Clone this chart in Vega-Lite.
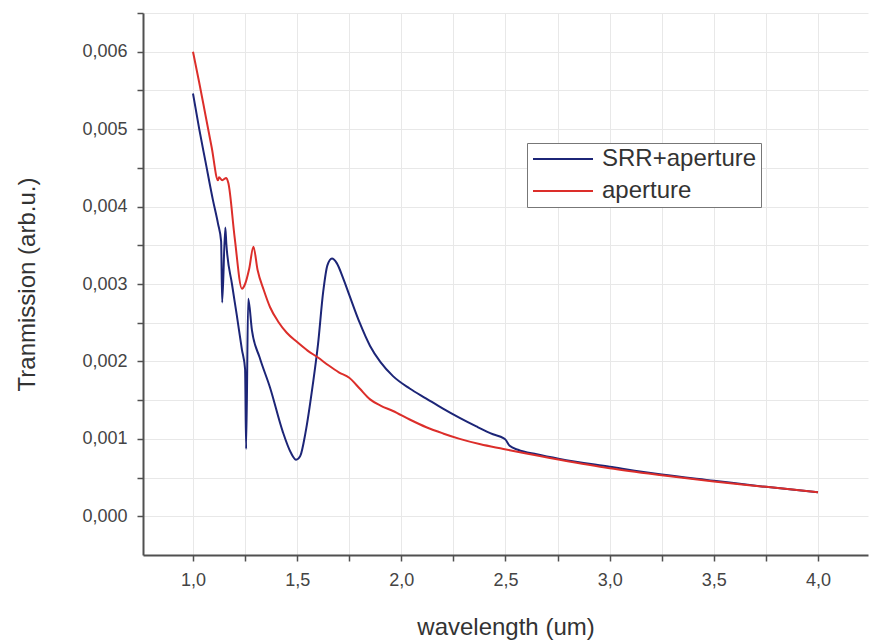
{
  "$schema": "https://vega.github.io/schema/vega-lite/v6.json",
  "autosize": "none",
  "width": 725,
  "height": 542,
  "padding": {"left": 143, "top": 13, "right": 1, "bottom": 86},
  "background": "white",
  "config": {
    "font": "Liberation Sans",
    "view": {"stroke": null},
    "axis": {
      "domainColor": "#505050",
      "domainWidth": 2,
      "tickColor": "#505050",
      "tickWidth": 1.5,
      "tickSize": 6,
      "gridColor": "#e8e8e8",
      "gridWidth": 1,
      "labelFont": "Liberation Sans",
      "labelFontSize": 18,
      "labelColor": "#444444",
      "titleFont": "Liberation Sans",
      "titleFontSize": 24,
      "titleFontWeight": "normal",
      "titleColor": "#333333",
      "labelPadding": 10
    }
  },
  "data": {
    "values": [
      {"w": 1.00, "t": 0.00546, "s": "SRR+aperture"},
      {"w": 1.03, "t": 0.00500, "s": "SRR+aperture"},
      {"w": 1.06, "t": 0.00458, "s": "SRR+aperture"},
      {"w": 1.096, "t": 0.00408, "s": "SRR+aperture"},
      {"w": 1.12, "t": 0.00378, "s": "SRR+aperture"},
      {"w": 1.135, "t": 0.00355, "s": "SRR+aperture"},
      {"w": 1.14, "t": 0.00276, "s": "SRR+aperture"},
      {"w": 1.155, "t": 0.00373, "s": "SRR+aperture"},
      {"w": 1.16, "t": 0.00352, "s": "SRR+aperture"},
      {"w": 1.187, "t": 0.00300, "s": "SRR+aperture"},
      {"w": 1.21, "t": 0.00260, "s": "SRR+aperture"},
      {"w": 1.235, "t": 0.00215, "s": "SRR+aperture"},
      {"w": 1.25, "t": 0.00190, "s": "SRR+aperture"},
      {"w": 1.255, "t": 0.00087, "s": "SRR+aperture"},
      {"w": 1.265, "t": 0.00281, "s": "SRR+aperture"},
      {"w": 1.283, "t": 0.00240, "s": "SRR+aperture"},
      {"w": 1.32, "t": 0.00205, "s": "SRR+aperture"},
      {"w": 1.37, "t": 0.00166, "s": "SRR+aperture"},
      {"w": 1.43, "t": 0.00110, "s": "SRR+aperture"},
      {"w": 1.47, "t": 0.00082, "s": "SRR+aperture"},
      {"w": 1.495, "t": 0.00073, "s": "SRR+aperture"},
      {"w": 1.515, "t": 0.00078, "s": "SRR+aperture"},
      {"w": 1.54, "t": 0.00108, "s": "SRR+aperture"},
      {"w": 1.575, "t": 0.00170, "s": "SRR+aperture"},
      {"w": 1.60, "t": 0.00222, "s": "SRR+aperture"},
      {"w": 1.625, "t": 0.00290, "s": "SRR+aperture"},
      {"w": 1.645, "t": 0.00324, "s": "SRR+aperture"},
      {"w": 1.667, "t": 0.00333, "s": "SRR+aperture"},
      {"w": 1.69, "t": 0.00327, "s": "SRR+aperture"},
      {"w": 1.72, "t": 0.00308, "s": "SRR+aperture"},
      {"w": 1.75, "t": 0.00286, "s": "SRR+aperture"},
      {"w": 1.80, "t": 0.00250, "s": "SRR+aperture"},
      {"w": 1.85, "t": 0.00220, "s": "SRR+aperture"},
      {"w": 1.90, "t": 0.00199, "s": "SRR+aperture"},
      {"w": 1.96, "t": 0.00181, "s": "SRR+aperture"},
      {"w": 2.04, "t": 0.00165, "s": "SRR+aperture"},
      {"w": 2.12, "t": 0.00152, "s": "SRR+aperture"},
      {"w": 2.20, "t": 0.00139, "s": "SRR+aperture"},
      {"w": 2.28, "t": 0.00127, "s": "SRR+aperture"},
      {"w": 2.36, "t": 0.00116, "s": "SRR+aperture"},
      {"w": 2.44, "t": 0.00106, "s": "SRR+aperture"},
      {"w": 2.49, "t": 0.00101, "s": "SRR+aperture"},
      {"w": 2.50, "t": 0.00099, "s": "SRR+aperture"},
      {"w": 2.52, "t": 0.00091, "s": "SRR+aperture"},
      {"w": 2.56, "t": 0.00086, "s": "SRR+aperture"},
      {"w": 2.65, "t": 0.00080, "s": "SRR+aperture"},
      {"w": 2.76, "t": 0.00074, "s": "SRR+aperture"},
      {"w": 3.00, "t": 0.00064, "s": "SRR+aperture"},
      {"w": 3.25, "t": 0.00054, "s": "SRR+aperture"},
      {"w": 3.50, "t": 0.00046, "s": "SRR+aperture"},
      {"w": 3.75, "t": 0.00038, "s": "SRR+aperture"},
      {"w": 4.00, "t": 0.00031, "s": "SRR+aperture"},
      {"w": 1.00, "t": 0.00600, "s": "aperture"},
      {"w": 1.03, "t": 0.00560, "s": "aperture"},
      {"w": 1.06, "t": 0.00518, "s": "aperture"},
      {"w": 1.09, "t": 0.00476, "s": "aperture"},
      {"w": 1.12, "t": 0.00434, "s": "aperture"},
      {"w": 1.125, "t": 0.00438, "s": "aperture"},
      {"w": 1.14, "t": 0.00434, "s": "aperture"},
      {"w": 1.16, "t": 0.00437, "s": "aperture"},
      {"w": 1.17, "t": 0.00430, "s": "aperture"},
      {"w": 1.20, "t": 0.00360, "s": "aperture"},
      {"w": 1.235, "t": 0.00294, "s": "aperture"},
      {"w": 1.25, "t": 0.00300, "s": "aperture"},
      {"w": 1.27, "t": 0.00320, "s": "aperture"},
      {"w": 1.29, "t": 0.00348, "s": "aperture"},
      {"w": 1.31, "t": 0.00318, "s": "aperture"},
      {"w": 1.34, "t": 0.00292, "s": "aperture"},
      {"w": 1.37, "t": 0.00270, "s": "aperture"},
      {"w": 1.41, "t": 0.00251, "s": "aperture"},
      {"w": 1.45, "t": 0.00237, "s": "aperture"},
      {"w": 1.50, "t": 0.00225, "s": "aperture"},
      {"w": 1.55, "t": 0.00214, "s": "aperture"},
      {"w": 1.60, "t": 0.00205, "s": "aperture"},
      {"w": 1.65, "t": 0.00195, "s": "aperture"},
      {"w": 1.70, "t": 0.00186, "s": "aperture"},
      {"w": 1.75, "t": 0.00179, "s": "aperture"},
      {"w": 1.80, "t": 0.00165, "s": "aperture"},
      {"w": 1.85, "t": 0.00151, "s": "aperture"},
      {"w": 1.90, "t": 0.00143, "s": "aperture"},
      {"w": 1.96, "t": 0.00136, "s": "aperture"},
      {"w": 2.04, "t": 0.00125, "s": "aperture"},
      {"w": 2.12, "t": 0.00115, "s": "aperture"},
      {"w": 2.20, "t": 0.00107, "s": "aperture"},
      {"w": 2.28, "t": 0.00100, "s": "aperture"},
      {"w": 2.38, "t": 0.00093, "s": "aperture"},
      {"w": 2.49, "t": 0.00087, "s": "aperture"},
      {"w": 2.60, "t": 0.00081, "s": "aperture"},
      {"w": 2.76, "t": 0.00073, "s": "aperture"},
      {"w": 3.00, "t": 0.00062, "s": "aperture"},
      {"w": 3.25, "t": 0.00053, "s": "aperture"},
      {"w": 3.50, "t": 0.00045, "s": "aperture"},
      {"w": 3.75, "t": 0.00038, "s": "aperture"},
      {"w": 4.00, "t": 0.00031, "s": "aperture"}
    ]
  },
  "mark": {"type": "line", "strokeWidth": 2, "interpolate": "monotone"},
  "encoding": {
    "x": {
      "field": "w",
      "type": "quantitative",
      "scale": {"domain": [0.76, 4.24], "nice": false, "zero": false},
      "axis": {
        "title": "wavelength (um)",
        "values": [1, 1.25, 1.5, 1.75, 2, 2.25, 2.5, 2.75, 3, 3.25, 3.5, 3.75, 4],
        "labelExpr": "abs(datum.value * 2 - round(datum.value * 2)) < 0.001 ? replace(format(datum.value, '.1f'), '.', ',') : ''",
        "titlePadding": 26
      }
    },
    "y": {
      "field": "t",
      "type": "quantitative",
      "scale": {"domain": [-0.0005, 0.0065], "nice": false, "zero": false},
      "axis": {
        "title": "Tranmission (arb.u.)",
        "values": [0, 0.0005, 0.001, 0.0015, 0.002, 0.0025, 0.003, 0.0035, 0.004, 0.0045, 0.005, 0.0055, 0.006, 0.0065],
        "labelExpr": "abs(datum.value * 1000 - round(datum.value * 1000)) < 0.001 ? replace(format(datum.value, '.3f'), '.', ',') : ''",
        "titlePadding": 42
      }
    },
    "color": {
      "field": "s",
      "type": "nominal",
      "sort": ["SRR+aperture", "aperture"],
      "scale": {"domain": ["SRR+aperture", "aperture"], "range": ["#1c2577", "#dc2e2a"]},
      "legend": {
        "title": null,
        "orient": "none",
        "legendX": 384,
        "legendY": 130,
        "padding": 4,
        "rowPadding": 8,
        "strokeColor": "#777777",
        "fillColor": "white",
        "symbolType": "M-1,0H5",
        "symbolSize": 400,
        "symbolStrokeWidth": 2,
        "labelOffset": 47,
        "labelFont": "Liberation Sans",
        "labelFontSize": 24,
        "labelColor": "#333333"
      }
    },
    "order": {"field": "s", "sort": "descending"}
  }
}
